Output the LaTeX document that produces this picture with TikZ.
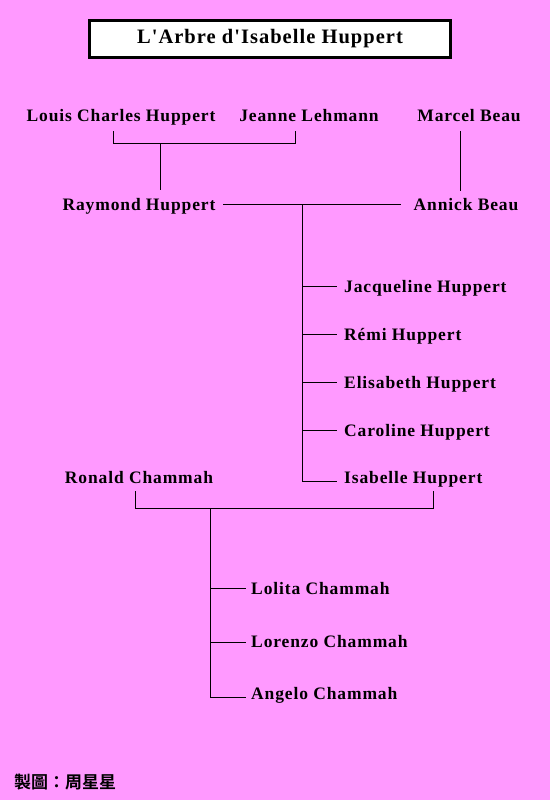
\documentclass[tikz,border=0pt]{standalone}
\usepackage{fontspec}
\setmainfont{Liberation Serif}
\newfontfamily\namefont[LetterSpace=5]{Liberation Serif Bold}
\newfontfamily\titlefont[LetterSpace=5]{Liberation Serif Bold}
\newfontfamily\cjk{Noto Sans CJK TC Bold}
\definecolor{bgpink}{HTML}{FF99FF}
\begin{document}
\begin{tikzpicture}[x=1pt,y=-1pt,
  person/.style={inner sep=0pt,anchor=base,font=\namefont\fontsize{17.5}{19}\selectfont},
  child/.style={person,anchor=base west},
  link/.style={draw=black,line width=1pt}]
\fill[bgpink] (0,0) rectangle (550,800);
\useasboundingbox (0,0) rectangle (550,800);
% title
\node[draw=black,line width=3pt,fill=white,minimum width=361pt,minimum height=37pt,inner sep=0pt,
  text height=14pt,text depth=4pt,
  font=\titlefont\fontsize{20.5}{22}\selectfont] (title) at (270,39) {L'Arbre d'Isabelle Huppert};
% grandparents
\node[person] (louis) at (121,121) {Louis Charles Huppert};
\node[person] (jeanne) at (309,121) {Jeanne Lehmann};
\node[person] (marcel) at (469,121) {Marcel Beau};
% parents
\node[person] (raymond) at (139,210) {Raymond Huppert};
\node[person] (annick) at (466,210) {Annick Beau};
% children
\node[child] (jacq) at (344,292) {Jacqueline Huppert};
\node[child] (remi) at (344,340) {Rémi Huppert};
\node[child] (elis) at (344,388) {Elisabeth Huppert};
\node[child] (caro) at (344,436) {Caroline Huppert};
\node[child] (isab) at (344,483) {Isabelle Huppert};
\node[person] (ronald) at (139,483) {Ronald Chammah};
% grandchildren
\node[child] (lolita) at (251,594) {Lolita Chammah};
\node[child] (lorenzo) at (251,647) {Lorenzo Chammah};
\node[child] (angelo) at (251,699) {Angelo Chammah};
% footer
\node[inner sep=0pt,anchor=west,font=\cjk\fontsize{17}{19}\selectfont] (credit) at (14,782) {製圖：周星星};
% connectors
\coordinate (lA) at (113,131); \coordinate (lB) at (295,131);
\coordinate (gpmid) at (160,143);
\draw[link] (lA) |- (lB |- gpmid) -- (lB);
\draw[link] (gpmid) -- (160,190) coordinate (rtop);
\coordinate (mA) at (460,131);
\draw[link] (mA) -- (460,191);
\coordinate (mL) at (223,204); \coordinate (mR) at (401,204);
\draw[link] (mL) -- (mR);
\coordinate (trunk) at (302,204);
\draw[link] (trunk) -- (302,481) -- (337,481);
\foreach \n/\yy in {jacq/286,remi/334,elis/382,caro/430}{
  \draw[link] (302,\yy) -- (337,\yy);
}
\coordinate (cA) at (135,491); \coordinate (cB) at (433,491);
\coordinate (cmid) at (210.5,508);
\draw[link] (cA) |- (cB |- cmid) -- (cB);
\draw[link] (cmid) -- (210.5,697) -- (246,697);
\foreach \yy in {588.5,642}{
  \draw[link] (210.5,\yy) -- (246,\yy);
}
\end{tikzpicture}
\end{document}
